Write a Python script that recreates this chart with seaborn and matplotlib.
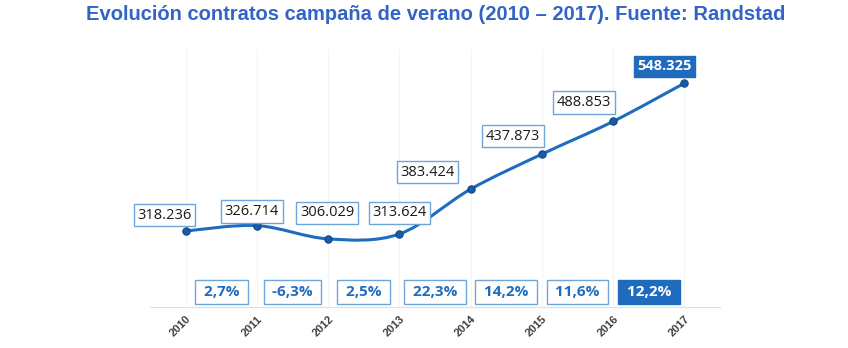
import numpy as np
import pandas as pd
import matplotlib
matplotlib.use("Agg")
import matplotlib.pyplot as plt
import seaborn as sns
from matplotlib.path import Path
from matplotlib.patches import PathPatch
import matplotlib.transforms as mtransforms

years = [2010, 2011, 2012, 2013, 2014, 2015, 2016, 2017]
contracts = [318236, 326714, 306029, 313624, 383424, 437873, 488853, 548325]
value_labels = ["318.236", "326.714", "306.029", "313.624", "383.424", "437.873", "488.853", "548.325"]
pct_labels = ["2,7%", "-6,3%", "2,5%", "22,3%", "14,2%", "11,6%", "12,2%"]
title = "Evolución contratos campaña de verano (2010 – 2017). Fuente: Randstad"

# label offsets in pixels (style)
label_dx = [-21, -5, -1, 0, -43, -29, -29, -20]
label_dy = [16, 14, 26, 21, 17, 18, 19, 17]

sns.set_theme(style="white")
plt.rcParams['font.family'] = ['Liberation Sans', 'DejaVu Sans']

W, H = 848, 348
fig = plt.figure(figsize=(W / 100, H / 100), dpi=100)
ax = fig.add_axes([150 / W, (H - 307) / H, 570 / W, 257 / H])

df = pd.DataFrame({"year": years, "contracts": contracts})

line_c = "#1f6cbf"
# smooth curve through points (Catmull-Rom -> cubic Bezier), in data coords
x = np.array(years, float)
y = np.array(contracts, float)
verts = [(x[0], y[0])]
codes = [Path.MOVETO]
n = len(x)
for i in range(n - 1):
    p0 = (x[i - 1], y[i - 1]) if i > 0 else (x[i], y[i])
    p1 = (x[i], y[i])
    p2 = (x[i + 1], y[i + 1])
    p3 = (x[i + 2], y[i + 2]) if i + 2 < n else (x[i + 1], y[i + 1])
    t = 1 / 6
    c1 = (p1[0] + (p2[0] - p0[0]) * t, p1[1] + (p2[1] - p0[1]) * t)
    c2 = (p2[0] - (p3[0] - p1[0]) * t, p2[1] - (p3[1] - p1[1]) * t)
    verts += [c1, c2, p2]
    codes += [Path.CURVE4] * 3
ax.add_patch(PathPatch(Path(verts, codes), facecolor="none", edgecolor=line_c, lw=2.2, zorder=2))

sns.scatterplot(data=df, x="year", y="contracts", ax=ax, color="#1a5aa6", s=28,
                edgecolor="#12478a", linewidth=0.8, zorder=3, legend=False)

ax.set_xlim(2009.5, 2017.5)
ax.set_ylim(200000, 600000)
ax.set_xticks(years)
ax.set_xticklabels([str(v) for v in years], rotation=45, ha="right", rotation_mode="anchor",
                   fontsize=8, color="#404040", fontweight="bold")
ax.tick_params(axis="x", length=0, pad=5)
ax.set_yticks([])
ax.set_xlabel("")
ax.set_ylabel("")
ax.grid(axis="x", color="#f4f4f4", lw=0.8)
for s in ["left", "right", "top"]:
    ax.spines[s].set_visible(False)
ax.spines["bottom"].set_color("#e0e0e0")
ax.spines["bottom"].set_linewidth(0.8)

box_edge = "#6ea6d8"
fill_c = "#1f6cbf"
for i, (xx, yy, lab) in enumerate(zip(years, contracts, value_labels)):
    last = i == len(years) - 1
    tr = mtransforms.offset_copy(ax.transData, fig=fig, x=label_dx[i] * 0.72, y=label_dy[i] * 0.72, units="points")
    ax.text(xx, yy, lab, transform=tr, ha="center", va="center", fontsize=10.5,
            color="white" if last else "#1a1a1a", fontweight="bold" if last else "normal",
            family=['Open Sans', 'DejaVu Sans'],
            bbox=dict(boxstyle="square,pad=0.25", fc=fill_c if last else "white",
                      ec=fill_c if last else box_edge, lw=1.0), zorder=4)

trb = mtransforms.blended_transform_factory(ax.transData, ax.transAxes)
for i, lab in enumerate(pct_labels):
    last = i == len(pct_labels) - 1
    xm = (years[i] + years[i + 1]) / 2
    ax.text(xm, 15 / 257, " " + lab + " ", transform=trb, ha="center", va="center", fontsize=11,
            color="white" if last else "#1f6cbf", fontweight="bold",
            family=['Open Sans', 'DejaVu Sans'],
            bbox=dict(boxstyle="square,pad=0.3", fc=fill_c if last else "white",
                      ec=fill_c if last else box_edge, lw=1.0), zorder=4)

fig.text(436 / W, 1 - 14 / H, title, ha="center", va="center", fontsize=14.5,
         fontweight="bold", color="#3263c6")

fig.savefig("out.png", dpi=100)
